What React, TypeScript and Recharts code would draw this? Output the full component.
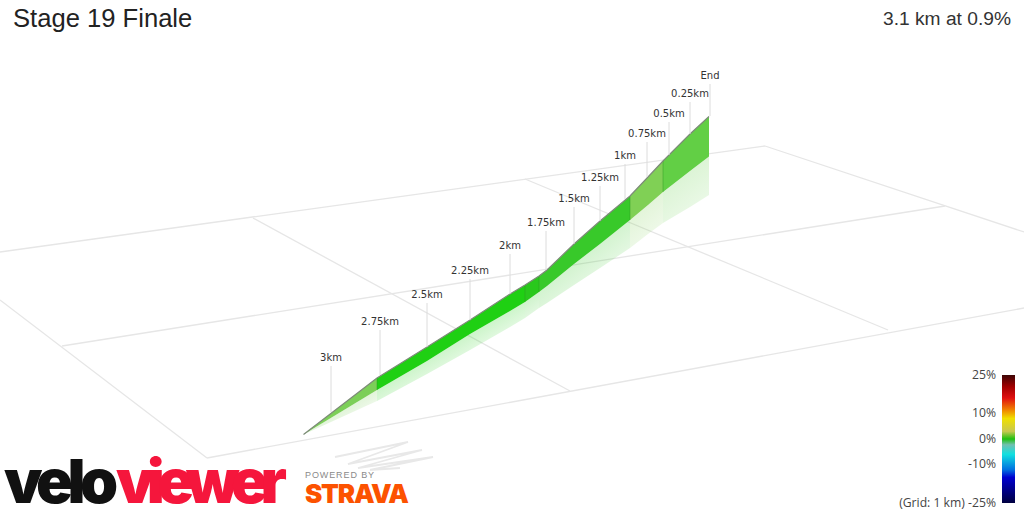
import { ComposedChart, Area, Line, XAxis, YAxis, ReferenceArea } from 'recharts';

const WIDTH = 1024;
const HEIGHT = 512;

// profile, in projected screen units
const profileX = [303.5, 377, 427, 470, 510, 525, 539, 547, 574, 600, 630, 648, 663, 690, 709];
const profileTop = [434.5, 378, 347, 320, 294, 285, 276, 270, 244, 221, 196, 177, 161, 134, 116.5];
const profileBottom = [434.5, 390, 361, 334, 311, 302, 292, 286, 264, 244, 220, 205, 192, 171, 156.5];
const profileShadow = [434.5, 401, 374, 350, 327, 318, 308, 303, 285, 268, 248, 234, 223, 207, 195];

// gradient sections: [first index, last index]
const sectionStart = [0, 1, 5, 6, 10, 12];
const sectionEnd = [1, 5, 6, 10, 12, 14];
const sectionColor = ['#7ccf58', '#1fd013', '#29c81c', '#38c92a', '#80d055', '#62cf45'];

const kmLabels = ['3km', '2.75km', '2.5km', '2.25km', '2km', '1.75km', '1.5km', '1.25km', '1km', '0.75km', '0.5km', '0.25km', 'End'];
const stemX = [331, 380, 427, 470, 510, 546, 574, 600, 625, 647, 669, 690, 710];
const stemBase = [412, 375, 347, 320, 294, 270, 244, 221, 199, 177, 155, 134, 116];
const stemTip = [366, 330, 303, 279, 254, 231, 207, 186, 164, 142, 122, 102, 84];

const gridLines = [
  [[0, 252], [765, 146]],
  [[62, 346], [945, 206]],
  [[207, 458], [1024, 308]],
  [[0, 300], [207, 458]],
  [[253, 218], [570, 391]],
  [[525, 179], [888, 330]],
  [[765, 146], [1024, 232]],
];

const mapTrace = [[335, 457], [408, 442], [348, 464], [422, 450], [358, 468], [433, 457], [370, 470], [400, 468]];

const scaleOffsets = [0, 0.09, 0.18, 0.27, 0.34, 0.44, 0.5, 0.545, 0.62, 0.74, 0.8, 1];
const scaleColors = ['#3d0505', '#a00000', '#e01010', '#f08000', '#f0e000', '#c8c850', '#20c010', '#70c0b0', '#10e0e0', '#0070e0', '#0000d0', '#000040'];
const scaleLabels = ['25%', '10%', '0%', '-10%', '(Grid: 1 km) -25%'];
const scaleLabelY = [375, 413, 439, 464, 503];

const rows = (a: number, b: number) =>
  profileX.slice(a, b + 1).map((x, i) => ({
    x,
    ribbon: [profileTop[a + i], profileBottom[a + i]],
    shadow: [profileBottom[a + i], profileShadow[a + i]],
  }));

const topEdge = profileX.map((x, i) => ({ x, y: profileTop[i] }));

// shadow fades away from the ribbon, square to its edge
function shadowGradient(s: number) {
  const a = sectionStart[s];
  const b = sectionEnd[s];
  const dx = profileX[b] - profileX[a];
  const dy = profileBottom[b] - profileBottom[a];
  const mx = (profileX[a] + profileX[b]) / 2;
  const my = (profileBottom[a] + profileBottom[b]) / 2;
  const depth = profileShadow[b] - profileBottom[b];
  const len2 = dx * dx + dy * dy;
  return { x1: mx, y1: my, x2: mx + (-dy * depth * dx) / len2, y2: my + (depth * dx * dx) / len2 };
}

function StemLabel(props: any) {
  const { x, y, index, text } = props;
  if (index !== 0) return null;
  return (
    <text x={x} y={y - 5} textAnchor="middle" fontFamily="DejaVu Sans" fontSize={10} fill="#333">
      {text}
    </text>
  );
}

export default function App() {
  return (
    <div style={{ position: 'absolute', left: 0, top: 0, width: WIDTH, height: HEIGHT, background: '#fff', overflow: 'hidden' }}>
      <ComposedChart width={WIDTH} height={HEIGHT} margin={{ top: 0, right: 0, bottom: 0, left: 0 }}>
        <defs>
          <linearGradient id="gradeScale" x1="0" y1="0" x2="0" y2="1">
            {scaleOffsets.map((o, i) => (
              <stop key={i} offset={o} stopColor={scaleColors[i]} />
            ))}
          </linearGradient>
          {sectionColor.map((c, s) => (
            <linearGradient key={s} id={`shadow${s}`} gradientUnits="userSpaceOnUse" {...shadowGradient(s)}>
              <stop offset="0" stopColor={c} stopOpacity={0.22} />
              <stop offset="1" stopColor={c} stopOpacity={0.14} />
            </linearGradient>
          ))}
        </defs>
        <XAxis type="number" dataKey="x" domain={[0, WIDTH]} hide allowDataOverflow />
        <YAxis type="number" domain={[0, HEIGHT]} reversed hide allowDataOverflow />

        {gridLines.map((g, i) => (
          <Area
            key={`grid${i}`}
            data={g.map((p) => ({ x: p[0], y: p[1] }))}
            dataKey="y"
            type="linear"
            stroke="#e6e6e6"
            strokeWidth={1.3}
            fill="none"
            dot={false}
            activeDot={false}
            isAnimationActive={false}
          />
        ))}
        <Area
          data={mapTrace.map((p) => ({ x: p[0], y: p[1] }))}
          dataKey="y"
          type="linear"
          stroke="#e8e8e8"
          strokeWidth={1.8}
          fill="none"
          dot={false}
          activeDot={false}
          isAnimationActive={false}
        />

        {sectionColor.map((c, s) => (
          <Area
            key={`shadow${s}`}
            data={rows(sectionStart[s], sectionEnd[s])}
            dataKey="shadow"
            type="linear"
            stroke="none"
            fill={`url(#shadow${s})`}
            fillOpacity={1}
            dot={false}
            activeDot={false}
            isAnimationActive={false}
          />
        ))}
        {sectionColor.map((c, s) => (
          <Area
            key={`ribbon${s}`}
            data={rows(sectionStart[s], sectionEnd[s])}
            dataKey="ribbon"
            type="linear"
            stroke="none"
            fill={c}
            fillOpacity={1}
            dot={false}
            activeDot={false}
            isAnimationActive={false}
          />
        ))}
        {sectionEnd.slice(0, -1).map((p) => (
          <Line
            key={`edge${p}`}
            data={[{ x: profileX[p], y: profileTop[p] }, { x: profileX[p], y: profileBottom[p] }]}
            dataKey="y"
            stroke="#2a9a20"
            strokeOpacity={0.45}
            strokeWidth={1}
            dot={false}
            activeDot={false}
            isAnimationActive={false}
          />
        ))}
        <Line data={topEdge} dataKey="y" stroke="#7d8a78" strokeWidth={1.2} dot={false} activeDot={false} isAnimationActive={false} />

        {kmLabels.map((t, i) => (
          <Line
            key={t}
            data={[{ x: stemX[i], y: stemTip[i] }, { x: stemX[i], y: stemBase[i] }]}
            dataKey="y"
            stroke="#dcdcdc"
            strokeWidth={1}
            dot={false}
            activeDot={false}
            label={<StemLabel text={t} />}
            isAnimationActive={false}
          />
        ))}

        <ReferenceArea x1={1002} x2={1015} y1={375} y2={503} fill="url(#gradeScale)" fillOpacity={1} stroke="none" ifOverflow="visible" />
      </ComposedChart>

      <div style={{ position: 'absolute', left: 13, top: 4, fontFamily: 'Liberation Sans', fontSize: 25.6, color: '#222', whiteSpace: 'nowrap' }}>
        Stage 19 Finale
      </div>
      <div style={{ position: 'absolute', right: 13, top: 8, fontFamily: 'Liberation Sans', fontSize: 19.2, color: '#333', whiteSpace: 'nowrap' }}>
        3.1 km at 0.9%
      </div>

      {scaleLabels.map((t, i) => (
        <div
          key={t}
          style={{ position: 'absolute', right: 28, top: scaleLabelY[i] - 8, lineHeight: '16px', fontFamily: 'Open Sans', fontSize: 12.2, color: '#444', whiteSpace: 'nowrap' }}
        >
          {t}
        </div>
      ))}

      <svg width={WIDTH} height={HEIGHT} style={{ position: 'absolute', left: 0, top: 0, pointerEvents: 'none' }}>
        <text x={4} y={503} fontFamily="Inter" fontWeight={900} fontSize={61} letterSpacing={-5.5} fill="#111">
          velo
        </text>
        <text x={116} y={503} fontFamily="Inter" fontWeight={900} fontSize={61} letterSpacing={-7.7} fill="#f5163c">
          viewer
        </text>
        <text x={305} y={478} fontFamily="Liberation Sans" fontSize={9} letterSpacing={0.9} fill="#8a8a8a">
          POWERED BY
        </text>
        <text x={305} y={503} fontFamily="Inter" fontWeight={900} fontSize={26} letterSpacing={-1.2} fill="#fc5200">
          STRAVA
        </text>
      </svg>
    </div>
  );
}
